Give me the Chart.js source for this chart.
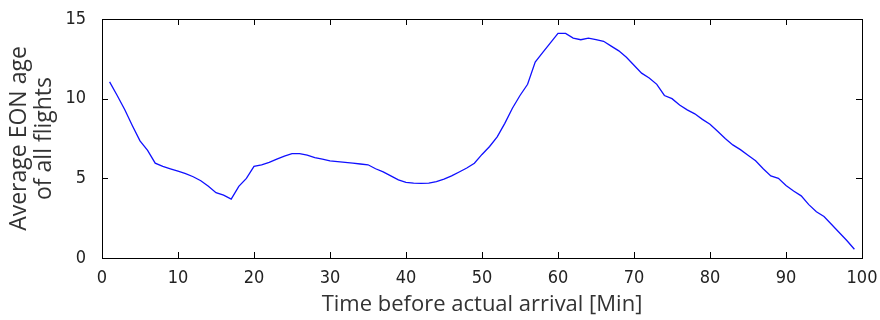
<!DOCTYPE html>
<html>
<head>
<meta charset="utf-8">
<script src="https://cdn.jsdelivr.net/npm/chart.js@4"></script>
<style>
  html, body { margin: 0; padding: 0; background: #fff; }
  #wrap { width: 880px; height: 320px; }
</style>
</head>
<body>
<div id="wrap"><canvas id="chart" width="880" height="320"></canvas></div>
<script>
'use strict';
// minutes before arrival
const minutes = [];
for (let m = 1; m <= 99; m++) minutes.push(m);

// average EON age
const eonAge = [
  11.05, 10.2, 9.3, 8.3, 7.35, 6.75, 5.95, 5.75, 5.6, 5.45,
  5.3, 5.1, 4.85, 4.5, 4.1, 3.95, 3.7, 4.5, 5.0, 5.75,
  5.85, 6.0, 6.2, 6.4, 6.55, 6.55, 6.45, 6.3, 6.2, 6.1,
  6.05, 6.0, 5.95, 5.9, 5.85, 5.6, 5.4, 5.15, 4.9, 4.75,
  4.7, 4.68, 4.7, 4.8, 4.95, 5.15, 5.4, 5.65, 5.95, 6.5,
  7.0, 7.6, 8.45, 9.4, 10.2, 10.9, 12.3, 12.9, 13.5, 14.1,
  14.1, 13.8, 13.7, 13.8, 13.7, 13.6, 13.3, 13.0, 12.6, 12.1,
  11.6, 11.3, 10.9, 10.2, 10.0, 9.6, 9.3, 9.05, 8.7, 8.4,
  7.95, 7.5, 7.1, 6.8, 6.45, 6.1, 5.6, 5.15, 5.0, 4.55,
  4.2, 3.9, 3.35, 2.9, 2.6, 2.1, 1.6, 1.1, 0.55
];

const xTicks = [0, 10, 20, 30, 40, 50, 60, 70, 80, 90, 100];
const yTicks = [0, 5, 10, 15];

const tickFont = { family: "'Liberation Sans Narrow', 'DejaVu Sans Condensed', 'Liberation Sans', sans-serif", size: 18 };
const xTitleFont = { family: "'Open Sans', 'DejaVu Sans', sans-serif", size: 22 };
const yTitleFont = { family: "'Open Sans', 'DejaVu Sans', sans-serif", size: 23, lineHeight: 1.1 };

// box round the plot with inward tick marks, matlab style
const boxTicks = {
  id: 'boxTicks',
  afterDraw(chart) {
    const { ctx, chartArea: a, scales } = chart;
    ctx.save();
    ctx.strokeStyle = '#000';
    ctx.lineWidth = 1;
    ctx.strokeRect(Math.round(a.left) + 0.5, Math.round(a.top) + 0.5,
      Math.round(a.right - a.left), Math.round(a.bottom - a.top));
    const len = 6;
    ctx.beginPath();
    xTicks.forEach(v => {
      const px = Math.round(scales.x.getPixelForValue(v)) + 0.5;
      ctx.moveTo(px, a.bottom); ctx.lineTo(px, a.bottom - len);
      ctx.moveTo(px, a.top); ctx.lineTo(px, a.top + len);
    });
    yTicks.forEach(v => {
      const py = Math.round(scales.y.getPixelForValue(v)) + 0.5;
      ctx.moveTo(a.left, py); ctx.lineTo(a.left + len, py);
      ctx.moveTo(a.right, py); ctx.lineTo(a.right - len, py);
    });
    ctx.stroke();
    ctx.restore();
  }
};

new Chart(document.getElementById('chart'), {
  type: 'line',
  data: {
    datasets: [{
      data: minutes.map((m, i) => ({ x: m, y: eonAge[i] })),
      borderColor: '#1010ff',
      borderWidth: 1.3,
      pointRadius: 0,
      tension: 0,
      fill: false
    }]
  },
  options: {
    responsive: false,
    animation: false,
    layout: { padding: { left: 0, right: 18, top: 19, bottom: 0 } },
    plugins: { legend: { display: false }, tooltip: { enabled: false } },
    scales: {
      x: {
        type: 'linear', min: 0, max: 100,
        afterFit: s => { s.height = 62; },
        afterBuildTicks: s => { s.ticks = xTicks.map(v => ({ value: v })); },
        grid: { display: false },
        border: { display: false },
        ticks: { color: '#222', font: tickFont, padding: 2, maxRotation: 0 },
        title: { display: true, text: 'Time before actual arrival [Min]', color: '#333', font: xTitleFont, padding: { top: 0, bottom: 2 } }
      },
      y: {
        min: 0, max: 15,
        afterFit: s => { s.width = 102; },
        afterBuildTicks: s => { s.ticks = yTicks.map(v => ({ value: v })); },
        grid: { display: false },
        border: { display: false },
        ticks: { color: '#222', font: tickFont, padding: 8 },
        title: { display: true, text: ['Average EON age', 'of all flights'], color: '#333', font: yTitleFont, padding: { top: 7, bottom: 2 } }
      }
    }
  },
  plugins: [boxTicks]
});
</script>
</body>
</html>
